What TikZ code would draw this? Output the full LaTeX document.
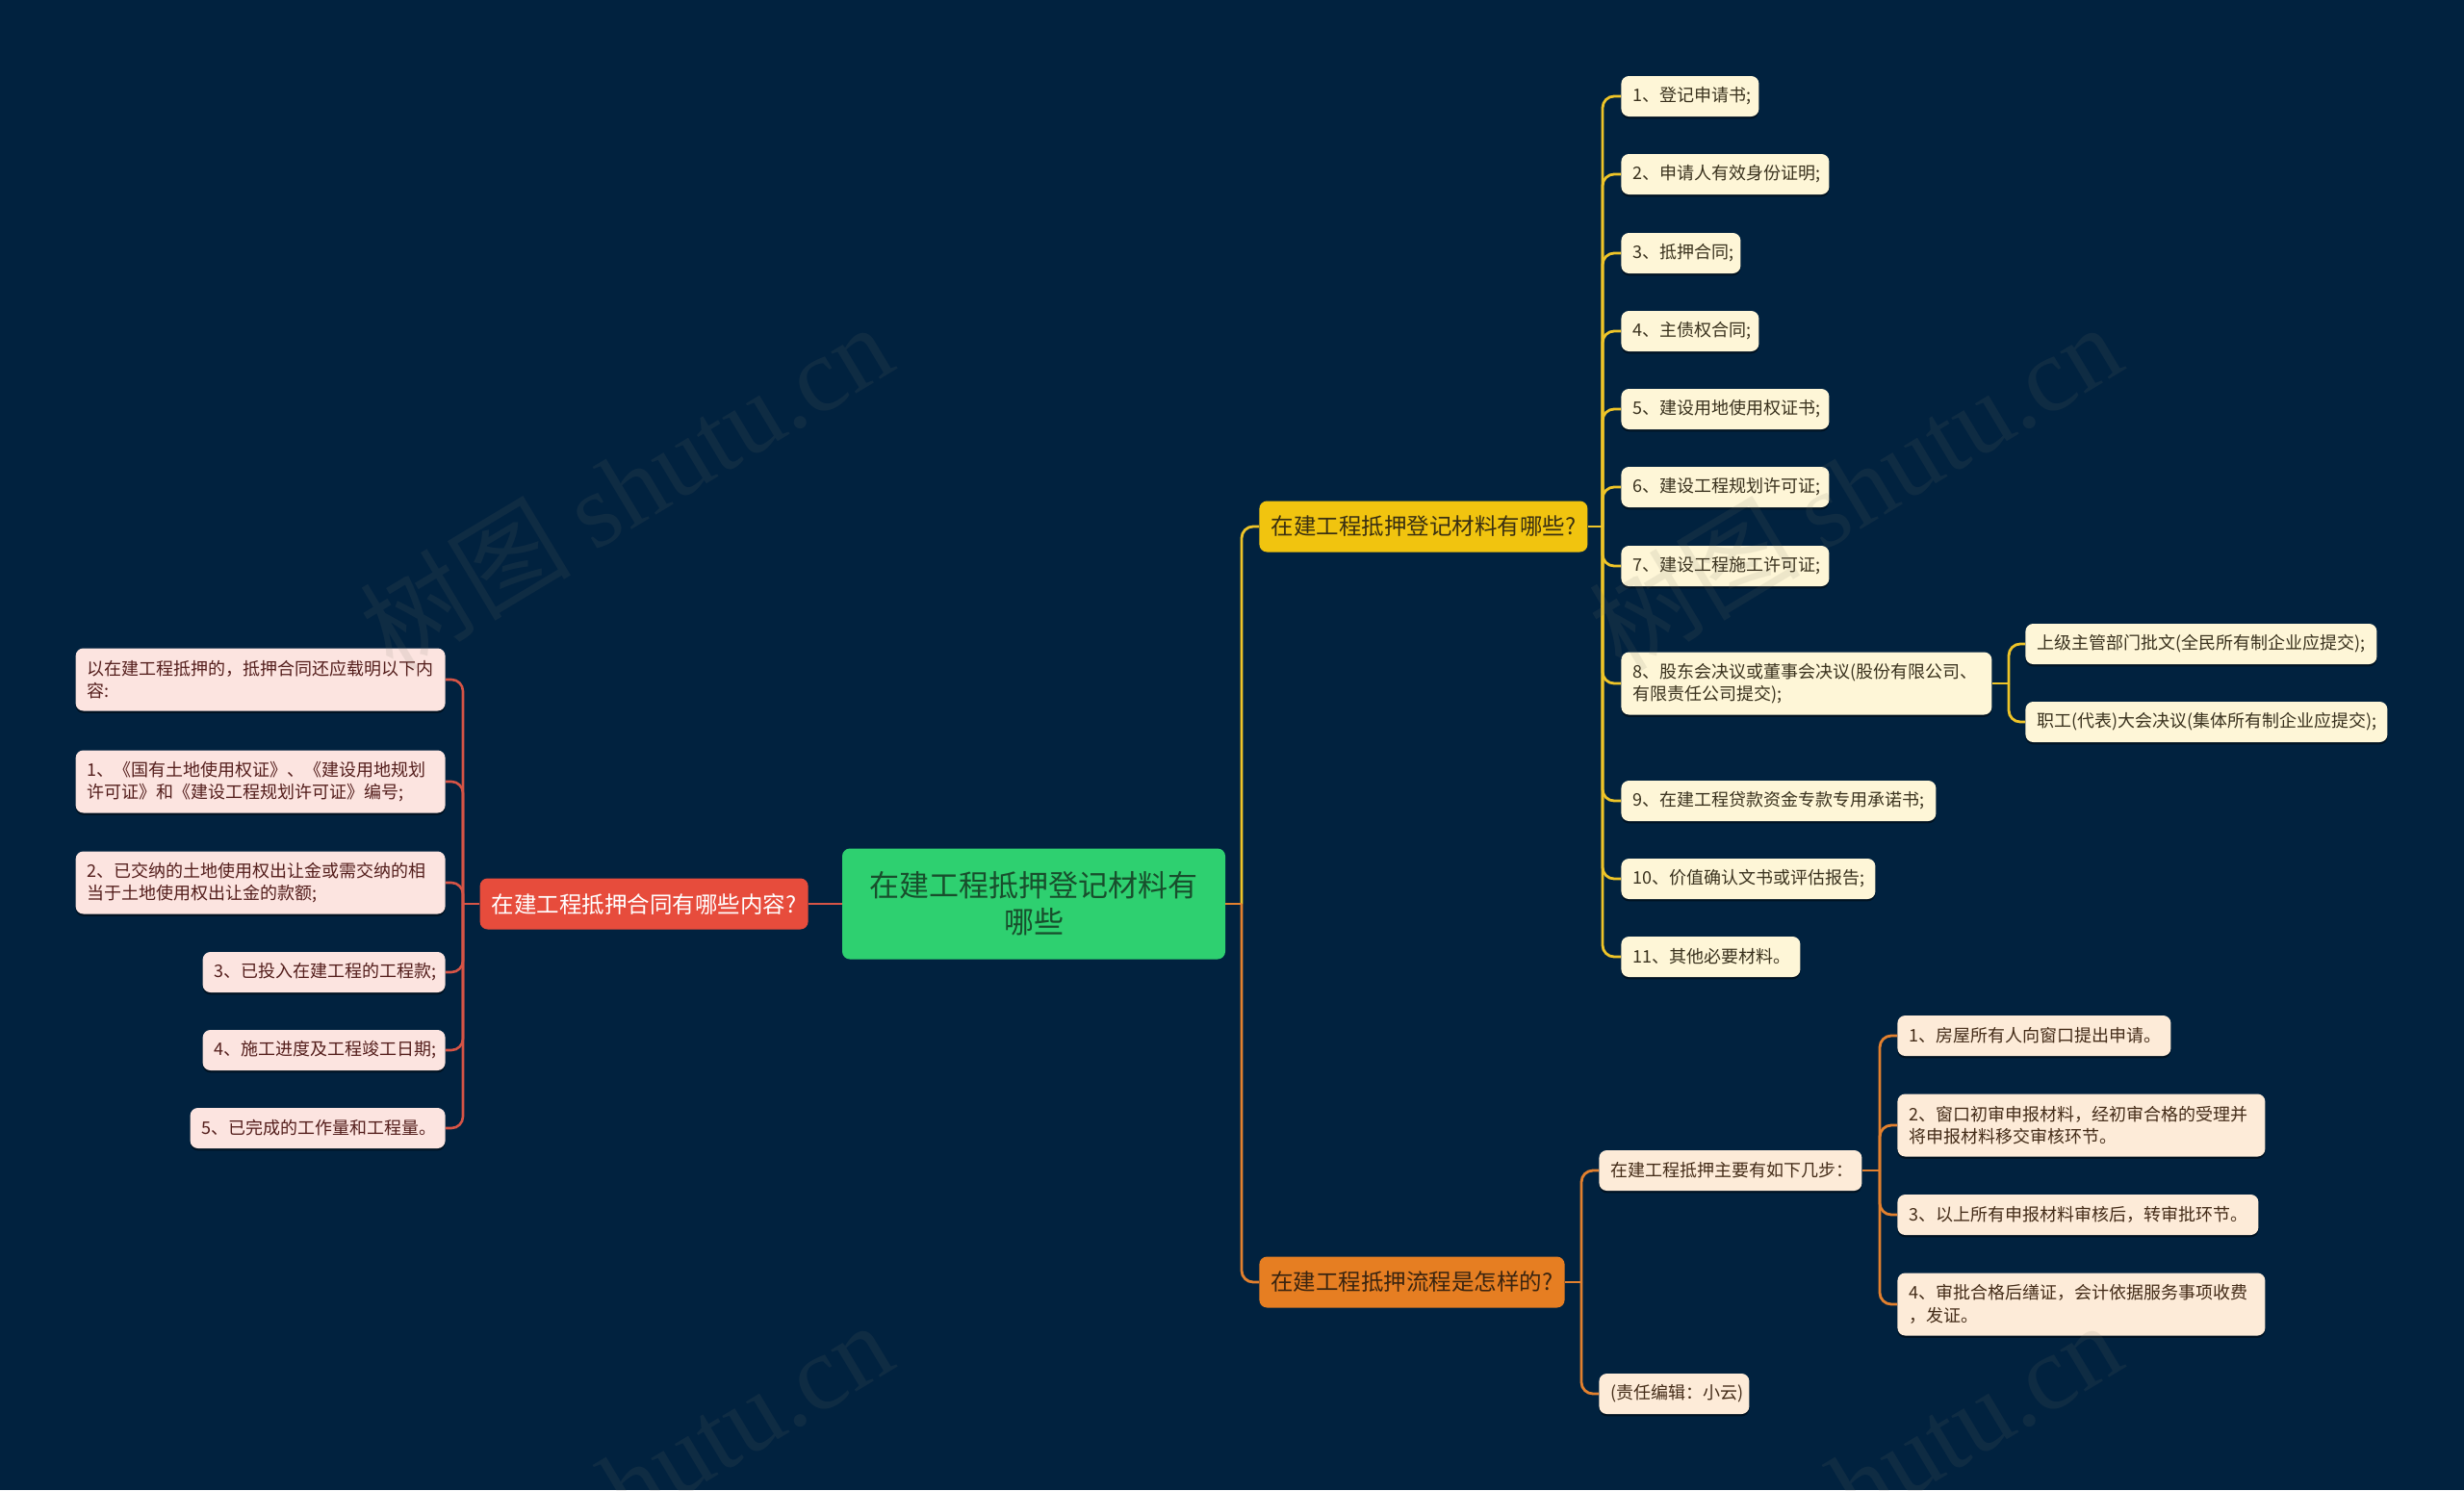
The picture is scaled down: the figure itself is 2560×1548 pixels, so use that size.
\documentclass[tikz,border=0pt]{standalone}
\usepackage{fontspec}
\setmainfont{Noto Sans CJK SC}
\newfontfamily\wmserif{Liberation Serif}
\usetikzlibrary{shadows}
\definecolor{bg}{RGB}{1,34,63}
\definecolor{cg}{RGB}{46,208,112}
\definecolor{cgt}{RGB}{24,78,44}
\definecolor{by}{RGB}{241,196,15}
\definecolor{byt}{RGB}{58,48,18}
\definecolor{br}{RGB}{231,76,60}
\definecolor{bo}{RGB}{230,126,34}
\definecolor{bot}{RGB}{58,36,16}
\definecolor{ly}{RGB}{254,246,215}
\definecolor{lyt}{RGB}{58,50,30}
\definecolor{lr}{RGB}{252,228,224}
\definecolor{lrt}{RGB}{84,30,28}
\definecolor{lo}{RGB}{253,235,216}
\definecolor{lot}{RGB}{68,44,24}
\definecolor{cy}{RGB}{238,196,40}
\definecolor{cr}{RGB}{214,84,70}
\definecolor{co}{RGB}{226,128,46}
\definecolor{wm}{RGB}{120,118,104}
\begin{document}
\begin{tikzpicture}[x=0.5pt,y=-0.5pt,
  boxbase/.style={rounded corners=4pt, inner ysep=0pt, inner xsep=6pt},
  centerbox/.style={boxbase, fill=cg, text=cgt, align=center,
    font=\fontsize{15.5}{19}\selectfont, minimum width=199pt, minimum height=57.5pt},
  branchbox/.style={boxbase, align=center, font=\fontsize{11.75}{14}\selectfont,
    minimum height=26.5pt},
  leafbox/.style={boxbase, align=left, font=\fontsize{9}{11.7}\selectfont,
    minimum height=21pt, drop shadow={shadow xshift=0pt,shadow yshift=-1.2pt,opacity=0.45,fill=black}},
  leafY/.style={leafbox, fill=ly, text=lyt},
  leafR/.style={leafbox, fill=lr, text=lrt},
  leafO/.style={leafbox, fill=lo, text=lot},
  tall/.style={minimum height=32.5pt},
  lineY/.style={draw=cy, line width=1.4pt},
  lineR/.style={draw=cr, line width=1.3pt},
  lineO/.style={draw=co, line width=1.4pt},
  elbow/.style={rounded corners=6pt},
  wmark/.style={rotate=31, text=wm, opacity=0.12, inner sep=0pt, font=\fontsize{55}{55}\selectfont}
]
\fill[bg] (0,0) rectangle (2560,1548);
\useasboundingbox (0,0) rectangle (2560,1548);

% center
\node[centerbox] (c) at (1074,939) {在建工程抵押登记材料有\\哪些};

% branches
\node[branchbox, fill=by, text=byt, anchor=west, minimum width=170.5pt] (yb) at (1308,547) {在建工程抵押登记材料有哪些?};
\node[branchbox, fill=br, text=white, anchor=east, minimum width=170.5pt] (rb) at (840,939) {在建工程抵押合同有哪些内容?};
\node[branchbox, fill=bo, text=bot, anchor=west, minimum width=158pt] (ob) at (1308,1332) {在建工程抵押流程是怎样的?};

% yellow leaves
\node[leafY, anchor=west, text width=59.5pt] (y1) at (1684,100) {1、登记申请书;};
\node[leafY, anchor=west, text width=96pt] (y2) at (1684,181) {2、申请人有效身份证明;};
\node[leafY, anchor=west, text width=50pt] (y3) at (1684,263) {3、抵押合同;};
\node[leafY, anchor=west, text width=59.5pt] (y4) at (1684,344) {4、主债权合同;};
\node[leafY, anchor=west, text width=96pt] (y5) at (1684,425) {5、建设用地使用权证书;};
\node[leafY, anchor=west, text width=96pt] (y6) at (1684,506) {6、建设工程规划许可证;};
\node[leafY, anchor=west, text width=96pt] (y7) at (1684,588) {7、建设工程施工许可证;};
\node[leafY, tall, anchor=west, text width=180.5pt] (y8) at (1684,710) {8、股东会决议或董事会决议(股份有限公司、\\有限责任公司提交);};
\node[leafY, anchor=west, text width=170.5pt] (y8a) at (2104,669) {上级主管部门批文(全民所有制企业应提交);};
\node[leafY, anchor=west, text width=176pt] (y8b) at (2104,750) {职工(代表)大会决议(集体所有制企业应提交);};
\node[leafY, anchor=west, text width=151.5pt] (y9) at (1684,832) {9、在建工程贷款资金专款专用承诺书;};
\node[leafY, anchor=west, text width=120pt] (y10) at (1684,913) {10、价值确认文书或评估报告;};
\node[leafY, anchor=west, text width=81pt] (y11) at (1684,994) {11、其他必要材料。};

% red leaves
\node[leafR, tall, anchor=east, text width=180pt] (r0) at (463,706) {以在建工程抵押的，抵押合同还应载明以下内\\容:};
\node[leafR, tall, anchor=east, text width=180pt] (r1) at (463,812) {1、《国有土地使用权证》、《建设用地规划\\许可证》和《建设工程规划许可证》编号;};
\node[leafR, tall, anchor=east, text width=180pt] (r2) at (463,917) {2、已交纳的土地使用权出让金或需交纳的相\\当于土地使用权出让金的款额;};
\node[leafR, anchor=east, text width=114pt] (r3) at (463,1010) {3、已投入在建工程的工程款;};
\node[leafR, anchor=east, text width=114pt] (r4) at (463,1091) {4、施工进度及工程竣工日期;};
\node[leafR, anchor=east, text width=120.5pt] (r5) at (463,1172) {5、已完成的工作量和工程量。};

% orange leaves
\node[leafO, anchor=west, text width=124.5pt] (o0) at (1661,1216) {在建工程抵押主要有如下几步：};
\node[leafO, anchor=west, text width=66pt] (oe) at (1661,1448) {(责任编辑：小云)};
\node[leafO, anchor=west, text width=130pt] (o1) at (1971,1076) {1、房屋所有人向窗口提出申请。};
\node[leafO, tall, anchor=west, text width=179pt] (o2) at (1971,1169) {2、窗口初审申报材料，经初审合格的受理并\\将申报材料移交审核环节。};
\node[leafO, anchor=west, text width=175.5pt] (o3) at (1971,1262) {3、以上所有申报材料审核后，转审批环节。};
\node[leafO, tall, anchor=west, text width=179pt] (o4) at (1971,1355) {4、审批合格后缮证，会计依据服务事项收费\\，发证。};

% junctions
\coordinate (cj) at (1290,939);
\coordinate (yj) at (1665,547);
\coordinate (y8j) at (2087,710);
\coordinate (rj) at (481,939);
\coordinate (oj) at (1643,1332);
\coordinate (o0j) at (1953,1216);

% main connectors
\draw[lineR] (c.west) -- (rb.east);
\draw[lineY, elbow] (cj) |- (yb.west);
\draw[lineO, elbow] (cj) |- (ob.west);
\draw[lineO] (c.east) -- (cj);

% yellow
\draw[lineY] (yb.east) -- (yj);
\foreach \n in {y1,y2,y3,y4,y5,y6,y7,y8,y9,y10,y11}
  \draw[lineY, elbow] (yj) |- (\n.west);
\draw[lineY] (y8.east) -- (y8j);
\draw[lineY, elbow] (y8j) |- (y8a.west);
\draw[lineY, elbow] (y8j) |- (y8b.west);

% red
\draw[lineR] (rb.west) -- (rj);
\foreach \n in {r0,r1,r2,r3,r4,r5}
  \draw[lineR, elbow] (rj) |- (\n.east);

% orange
\draw[lineO] (ob.east) -- (oj);
\draw[lineO, elbow] (oj) |- (o0.west);
\draw[lineO, elbow] (oj) |- (oe.west);
\draw[lineO] (o0.east) -- (o0j);
\foreach \n in {o1,o2,o3,o4}
  \draw[lineO, elbow] (o0j) |- (\n.west);

% watermarks
\node[wmark] (wm1) at (650,505) {树图 {\wmserif shutu.cn}};
\node[wmark] (wm2) at (1927,505) {树图 {\wmserif shutu.cn}};
\node[wmark] (wm3) at (650,1542) {树图 {\wmserif shutu.cn}};
\node[wmark] (wm4) at (1927,1542) {树图 {\wmserif shutu.cn}};
\end{tikzpicture}
\end{document}
